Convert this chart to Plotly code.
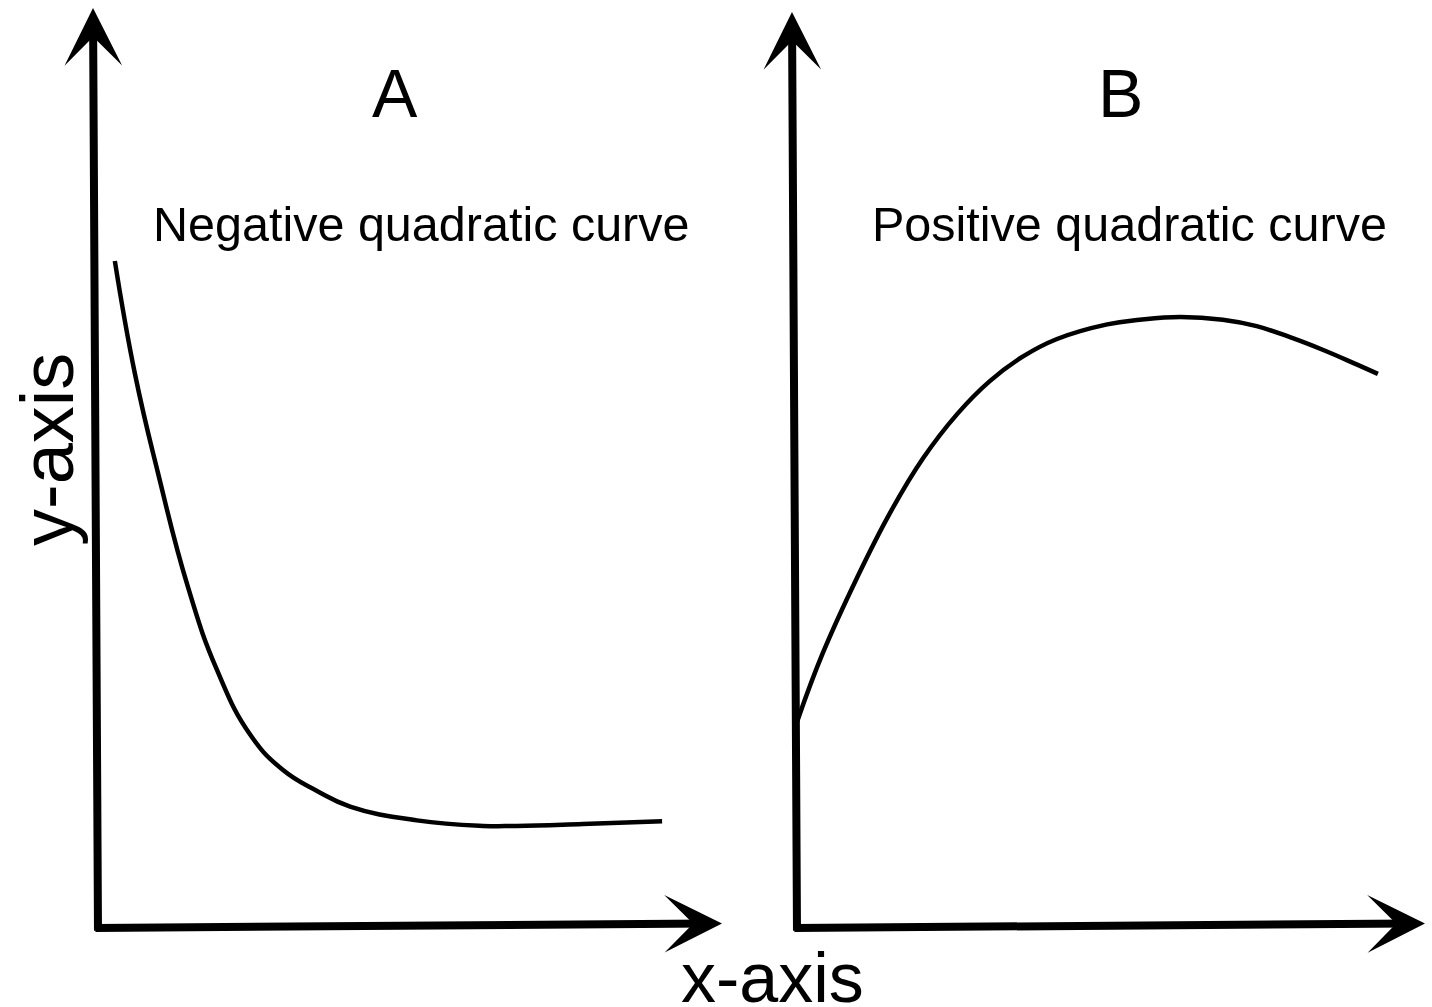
import plotly.graph_objects as go

W, H = 1432, 1007

# ---- data (panel units: x 0-10 along x-axis, y 0-10 along y-axis) ----
neg_x = [0.27, 0.59, 0.96, 1.44, 1.91, 2.44, 2.96, 3.51, 4.04, 5.11, 6.17, 6.71, 7.77, 9.04]
neg_y = [7.25, 6.03, 4.95, 3.71, 2.80, 2.10, 1.72, 1.49, 1.32, 1.17, 1.11, 1.11, 1.13, 1.16]

pos_x = [0.00, 0.41, 0.96, 1.48, 2.01, 2.55, 3.07, 3.60, 4.14, 4.94, 5.46, 6.10, 6.78, 7.32, 7.85, 8.38, 8.92, 9.25]
pos_y = [2.25, 3.00, 3.83, 4.53, 5.13, 5.61, 5.97, 6.24, 6.43, 6.59, 6.64, 6.67, 6.64, 6.57, 6.45, 6.31, 6.15, 6.05]

panel_titles = ["A", "B"]
panel_subtitles = ["Negative quadratic curve", "Positive quadratic curve"]
x_label = "x-axis"
y_label = "y-axis"

FONT = "Liberation Sans, Arial, Helvetica, sans-serif"

fig = go.Figure()
fig.add_trace(go.Scatter(x=neg_x, y=neg_y, mode="lines",
                         line=dict(color="black", width=4.5, shape="spline", smoothing=1.3),
                         xaxis="x", yaxis="y", showlegend=False, hoverinfo="skip"))
fig.add_trace(go.Scatter(x=pos_x, y=pos_y, mode="lines",
                         line=dict(color="black", width=4.5, shape="spline", smoothing=1.2),
                         xaxis="x2", yaxis="y2", showlegend=False, hoverinfo="skip"))

def px_x(p):
    return p / W

def px_y(p):
    return 1 - p / H

ax_common = dict(visible=False, range=[0, 10], fixedrange=True)
fig.update_layout(
    width=W, height=H,
    margin=dict(l=0, r=0, t=0, b=0),
    paper_bgcolor="white", plot_bgcolor="white",
    xaxis=dict(domain=[px_x(98), px_x(722)], **ax_common),
    yaxis=dict(domain=[px_y(928), px_y(8)], **ax_common),
    xaxis2=dict(domain=[px_x(797), px_x(1425)], anchor="y2", **ax_common),
    yaxis2=dict(domain=[px_y(928), px_y(12)], anchor="x2", **ax_common),
)

annotations = []
# axis arrows
for xr, yr, vtilt_x, htilt_y in [("x", "y", -0.08, 0.05), ("x2", "y2", -0.08, 0.05)]:
    annotations.append(dict(x=vtilt_x, y=10, ax=0, ay=-0.045, xref=xr, yref=yr, axref=xr, ayref=yr,
                            text="", showarrow=True, arrowhead=3, arrowsize=1.2, arrowwidth=8,
                            arrowcolor="black", standoff=0))
    annotations.append(dict(x=10, y=htilt_y, ax=-0.065, ay=0, xref=xr, yref=yr, axref=xr, ayref=yr,
                            text="", showarrow=True, arrowhead=3, arrowsize=1.2, arrowwidth=8,
                            arrowcolor="black", standoff=0))

# titles
for t, cx in zip(panel_titles, [395, 1120]):
    annotations.append(dict(x=px_x(cx), y=px_y(93), xref="paper", yref="paper", text=t, showarrow=False,
                            xanchor="center", yanchor="middle", font=dict(family=FONT, size=68, color="black")))
for t, cx in zip(panel_subtitles, [421, 1129]):
    annotations.append(dict(x=px_x(cx), y=px_y(224), xref="paper", yref="paper", text=t, showarrow=False,
                            xanchor="center", yanchor="middle", font=dict(family=FONT, size=48.5, color="black")))

annotations.append(dict(x=px_x(772), y=px_y(978), xref="paper", yref="paper", text=x_label, showarrow=False,
                        xanchor="center", yanchor="middle", font=dict(family=FONT, size=70, color="black")))
annotations.append(dict(x=px_x(47), y=px_y(450), xref="paper", yref="paper", text=y_label, showarrow=False,
                        textangle=-90, xanchor="center", yanchor="middle",
                        font=dict(family=FONT, size=74, color="black")))

fig.update_layout(annotations=annotations)
fig.write_html("out.html", config={"displayModeBar": False},
               post_script="document.body.style.margin='0';document.body.style.overflow='hidden';")
